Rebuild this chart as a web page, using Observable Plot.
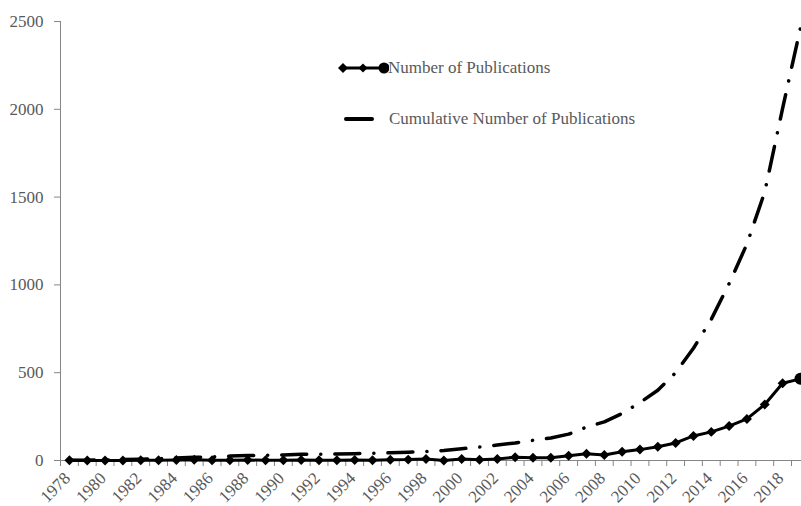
<!DOCTYPE html>
<html><head><meta charset="utf-8">
<script src="https://cdn.jsdelivr.net/npm/d3@7"></script>
<script src="https://cdn.jsdelivr.net/npm/@observablehq/plot@0.6"></script>
<style>
body{margin:0;background:#fff;}
#wrap{position:relative;width:801px;height:506px;overflow:hidden;}
.leg{position:absolute;font-family:"Liberation Serif","DejaVu Serif",serif;font-size:17px;color:#595959;line-height:17px;white-space:nowrap;}
.sw{position:absolute;}
</style></head><body><div id="wrap"></div>
<script>
const years = [1978,1979,1980,1981,1982,1983,1984,1985,1986,1987,1988,1989,1990,1991,1992,1993,1994,1995,1996,1997,1998,1999,2000,2001,2002,2003,2004,2005,2006,2007,2008,2009,2010,2011,2012,2013,2014,2015,2016,2017,2018,2019];
const publications = [1,0,0,0,1,2,3,4,1,2,3,1,1,3,1,1,3,1,4,5,9,0,9,4,9,19,15,16,27,38,31,50,62,78,100,140,163,196,237,319,440,465];
const cumulative = [1,2,3,5,7,10,14,18,21,25,28,30,32,35,36,37,39,41,44,47,51,57,67,77,88,100,115,128,150,190,220,268,330,400,500,639,804,1007,1233,1530,2005,2463];
const yTicks = [0,500,1000,1500,2000,2500];
const xTickLabels = [1978,1980,1982,1984,1986,1988,1990,1992,1994,1996,1998,2000,2002,2004,2006,2008,2010,2012,2014,2016,2018];
const seriesNames = ["Number of Publications","Cumulative Number of Publications"];

const data = years.map((y,i)=>({year:y, pub:publications[i], cum:cumulative[i]}));
const lastYear = years[years.length-1];
const boundaries = years.map(y=>y-0.5);

const chart = Plot.plot({
  width: 801, height: 506,
  marginLeft: 60, marginRight: 0, marginTop: 21, marginBottom: 46,
  style: {color:"#595959", fontFamily:"'Liberation Serif','DejaVu Serif',serif", fontSize:"17px", background:"#fff", overflow:"hidden"},
  x: {domain:[1977.5, 2019.06]},
  y: {domain:[0,2500]},
  marks: [
    Plot.ruleY([0], {stroke:"#868686", strokeWidth:1}),
    Plot.ruleX([1977.5], {stroke:"#868686", strokeWidth:1}),
    Plot.axisY({ticks:yTicks, tickSize:6, tickPadding:11, stroke:"#868686", label:null, tickFormat:d=>String(d)}),
    Plot.axisX({ticks:boundaries, tickSize:6, stroke:"#868686", tickFormat:()=>"", label:null}),
    Plot.axisX({ticks:xTickLabels, tickSize:0, tickRotate:-45, tickPadding:15, dx:-2, label:null, tickFormat:d=>String(d)}),
    Plot.line(data, {x:"year", y:"cum", stroke:"black", strokeWidth:3.5, strokeDasharray:"25,14,0.1,14", strokeLinecap:"round"}),
    Plot.line(data, {x:"year", y:"pub", stroke:"black", strokeWidth:3}),
    Plot.dot(data, {filter:d=>d.year!==lastYear, x:"year", y:"pub", symbol:"diamond2", r:4.5, fill:"black", stroke:"none"}),
    Plot.dot(data, {filter:d=>d.year===lastYear, x:"year", y:"pub", symbol:"circle", r:6, fill:"black", stroke:"none"})
  ]
});
const wrap = document.getElementById("wrap");
wrap.appendChild(chart);

// legend overlay
const sw1 = document.createElementNS("http://www.w3.org/2000/svg","svg");
sw1.setAttribute("class","sw"); sw1.setAttribute("width","52"); sw1.setAttribute("height","16");
sw1.style.left="337px"; sw1.style.top="60px";
sw1.innerHTML = '<line x1="6" y1="8" x2="47" y2="8" stroke="black" stroke-width="3"/>'+
  '<path d="M6,3L11,8L6,13L1,8Z" fill="black"/><path d="M26,3.5L30.5,8L26,12.5L21.5,8Z" fill="black"/>'+
  '<circle cx="47" cy="8" r="5.5" fill="black"/>';
wrap.appendChild(sw1);
const sw2 = document.createElementNS("http://www.w3.org/2000/svg","svg");
sw2.setAttribute("class","sw"); sw2.setAttribute("width","34"); sw2.setAttribute("height","12");
sw2.style.left="342px"; sw2.style.top="113px";
sw2.innerHTML = '<line x1="4" y1="6" x2="30" y2="6" stroke="black" stroke-width="4" stroke-linecap="round"/>';
wrap.appendChild(sw2);
const t1 = document.createElement("div"); t1.className="leg"; t1.textContent=seriesNames[0];
t1.style.left="388px"; t1.style.top="59px"; wrap.appendChild(t1);
const t2 = document.createElement("div"); t2.className="leg"; t2.textContent=seriesNames[1];
t2.style.left="389px"; t2.style.top="110px"; wrap.appendChild(t2);
</script></body></html>
